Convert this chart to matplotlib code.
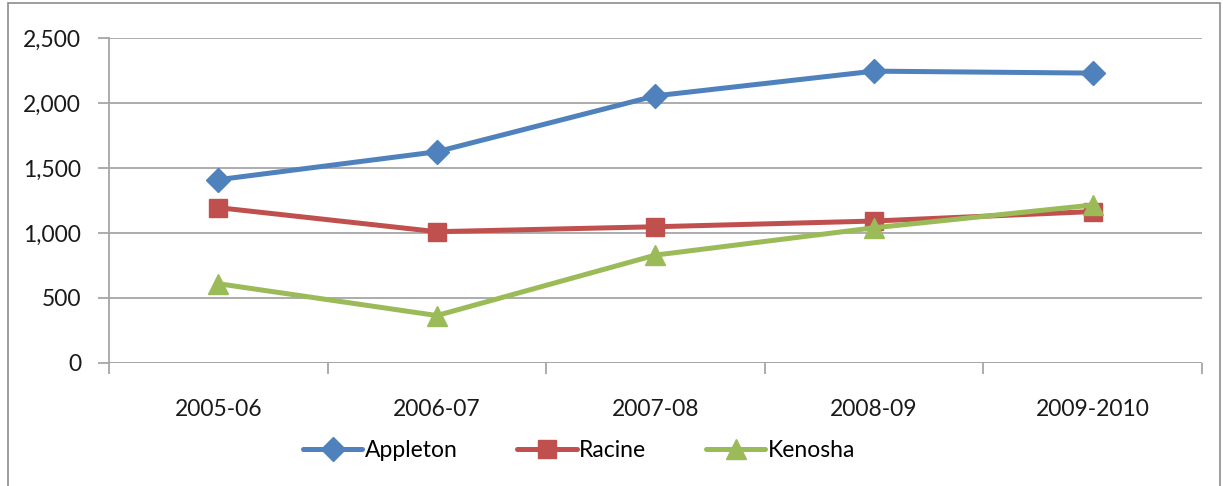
import matplotlib.pyplot as plt
from matplotlib.patches import Rectangle
from matplotlib.ticker import FuncFormatter, MultipleLocator

plt.rcParams['font.family'] = ['Lato', 'DejaVu Sans']

years = ['2005-06', '2006-07', '2007-08', '2008-09', '2009-2010']
appleton = [1410, 1625, 2055, 2245, 2230]
racine = [1195, 1010, 1048, 1092, 1165]
kenosha = [610, 365, 830, 1040, 1215]

fig = plt.figure(figsize=(12.23, 4.86), dpi=100)
ax = fig.add_axes([0.0891, 0.2531, 0.8936, 0.6687])

# outer chart border
fig.patches.append(Rectangle((8 / 1223, -0.05), 1212 / 1223, 1.0 - 3 / 486 + 0.05,
                             transform=fig.transFigure, fill=False,
                             edgecolor='#8c8c8c', linewidth=1.2))

x = range(len(years))
ax.plot(x, appleton, color='#4F81BD', lw=3.6, marker='D', ms=12,
        label='Appleton', solid_capstyle='round')
ax.plot(x, racine, color='#C0504D', lw=3.6, marker='s', ms=13,
        label='Racine', solid_capstyle='round')
ax.plot(x, kenosha, color='#9BBB59', lw=3.6, marker='^', ms=14,
        label='Kenosha', solid_capstyle='round')

ax.set_xlim(-0.5, 4.5)
ax.set_ylim(0, 2500)
ax.yaxis.set_major_locator(MultipleLocator(500))
ax.yaxis.set_major_formatter(FuncFormatter(lambda v, p: f'{int(v):,}'))
ax.grid(axis='y', color='#a6a6a6', lw=1.3)
ax.set_axisbelow(True)

ax.set_xticks([i + 0.5 for i in range(-1, 5)])
ax.set_xticklabels([])
ax.set_xticks(list(x), minor=True)
ax.set_xticklabels(years, minor=True)
ax.tick_params(axis='x', which='major', length=8, color='#a6a6a6', width=1.3)
ax.tick_params(axis='x', which='minor', length=0, pad=26, labelsize=16.5,
               labelcolor='#1a1a1a')
ax.tick_params(axis='y', length=8, color='#a6a6a6', width=1.3, pad=12,
               labelsize=16.5, labelcolor='#1a1a1a')

for s in ['top', 'right', 'bottom']:
    ax.spines[s].set_visible(False)
ax.spines['left'].set_color('#a6a6a6')
ax.spines['left'].set_linewidth(1.3)
ax.axhline(0, color='#a6a6a6', lw=1.3)

ax.legend(loc='center', bbox_to_anchor=(0.43, -0.27), ncol=3, frameon=False,
          fontsize=16.5, handlelength=2.6, handletextpad=0.1, columnspacing=2.6)

fig.savefig('out.png', dpi=100)
